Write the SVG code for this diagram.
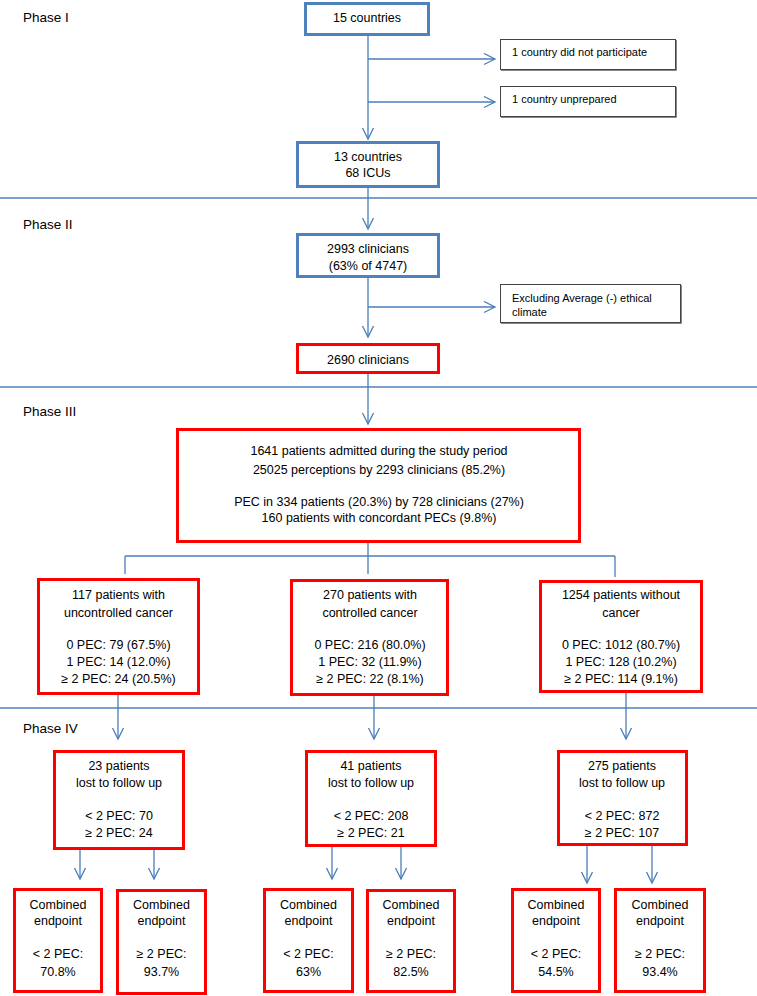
<svg xmlns="http://www.w3.org/2000/svg" width="757" height="996" viewBox="0 0 757 996">
<defs>
<marker id="arr" markerUnits="userSpaceOnUse" markerWidth="14" markerHeight="14" refX="12" refY="6" orient="auto">
<path d="M1,0.5 L12,6 L1,11.5" fill="none" stroke="#4a7ebb" stroke-width="1.3"/>
</marker>
</defs>
<style>
text{font-family:"Liberation Sans",Arial,sans-serif;font-size:12.5px;fill:#000}
.c{text-anchor:middle}
.ph{font-size:13.5px}
.sm{font-size:11px}
.blue{fill:#fff;stroke:#4f81bd;stroke-width:3}
.red{fill:#fff;stroke:#ff0000;stroke-width:3}
.side{fill:#fff;stroke:#444;stroke-width:1}
.shadow{fill:none;stroke:#888;stroke-width:1}
.div{stroke:#4f81bd;stroke-width:1.5;fill:none}
.ln{stroke:#4a7ebb;stroke-width:1.3;fill:none}
.ar{stroke:#4a7ebb;stroke-width:1.3;fill:none;marker-end:url(#arr)}
</style>
<rect width="757" height="996" fill="#fff"/>
<g id="dividers">
<line class="div" x1="0" y1="198" x2="757" y2="198"/>
<line class="div" x1="0" y1="387" x2="757" y2="387"/>
<line class="div" x1="0" y1="708" x2="757" y2="708"/>
</g>
<g id="phases">
<text class="ph" x="23" y="22">Phase I</text>
<text class="ph" x="23" y="229">Phase II</text>
<text class="ph" x="23" y="416">Phase III</text>
<text class="ph" x="23" y="733">Phase IV</text>
</g>
<g id="connectors">
<line class="ar" x1="368" y1="36" x2="368" y2="139"/>
<line class="ar" x1="368" y1="59" x2="495" y2="59"/>
<line class="ar" x1="368" y1="102" x2="495" y2="102"/>
<line class="ar" x1="368" y1="188" x2="368" y2="229"/>
<line class="ar" x1="368" y1="278" x2="368" y2="337"/>
<line class="ar" x1="368" y1="307" x2="495" y2="307"/>
<line class="ar" x1="368" y1="374" x2="368" y2="424"/>
<polyline class="ln" points="368,543 368,556"/>
<line class="ln" x1="125" y1="556" x2="615" y2="556"/>
<line class="ln" x1="125" y1="556" x2="125" y2="574"/>
<line class="ln" x1="368" y1="556" x2="368" y2="574"/>
<line class="ln" x1="615" y1="556" x2="615" y2="577"/>
<line class="ar" x1="118" y1="695" x2="118" y2="739"/>
<line class="ar" x1="374" y1="696" x2="374" y2="739"/>
<line class="ar" x1="626" y1="693" x2="626" y2="739"/>
<line class="ar" x1="80" y1="850" x2="80" y2="879"/>
<line class="ar" x1="154" y1="850" x2="154" y2="879"/>
<line class="ar" x1="332" y1="847" x2="332" y2="879"/>
<line class="ar" x1="401" y1="847" x2="401" y2="879"/>
<line class="ar" x1="587" y1="846" x2="587" y2="883"/>
<line class="ar" x1="652" y1="846" x2="652" y2="883"/>
</g>
<g id="n15">
<rect class="blue" x="305.5" y="3.5" width="123" height="31"/>
<text class="c" x="367" y="21.5">15 countries</text>
</g>
<g id="nNoPart">
<rect class="side" x="500.5" y="39.5" width="175" height="30"/>
<polyline class="shadow" points="676.5,40 676.5,70.5 501,70.5"/>
<text class="sm" x="512" y="56">1 country did not participate</text>
</g>
<g id="nUnprep">
<rect class="side" x="500.5" y="86.5" width="175" height="30"/>
<polyline class="shadow" points="676.5,87 676.5,117.5 501,117.5"/>
<text class="sm" x="512" y="103">1 country unprepared</text>
</g>
<g id="n13">
<rect class="blue" x="297.5" y="142.5" width="141" height="44"/>
<text class="c" x="368" y="160.5">13 countries</text>
<text class="c" x="368" y="177">68 ICUs</text>
</g>
<g id="n2993">
<rect class="blue" x="297.5" y="234.5" width="141" height="42"/>
<text class="c" x="368" y="252.5">2993 clinicians</text>
<text class="c" x="368" y="269.5">(63% of 4747)</text>
</g>
<g id="nExcl">
<rect class="side" x="500.5" y="284.5" width="180" height="38"/>
<polyline class="shadow" points="681.5,285 681.5,323.5 501,323.5"/>
<text class="sm" x="512" y="302">Excluding Average (-) ethical</text>
<text class="sm" x="512" y="316">climate</text>
</g>
<g id="n2690">
<rect class="red" x="297.5" y="344.5" width="141" height="28"/>
<text class="c" x="368" y="363.5">2690 clinicians</text>
</g>
<g id="nPatients">
<rect class="red" x="177.5" y="429.5" width="402" height="112"/>
<text class="c" x="379" y="454.5">1641 patients admitted during the study period</text>
<text class="c" x="379" y="473.5">25025 perceptions by 2293 clinicians (85.2%)</text>
<text class="c" x="379" y="505.5">PEC in 334 patients (20.3%) by 728 clinicians (27%)</text>
<text class="c" x="379" y="521.5">160 patients with concordant PECs (9.8%)</text>
</g>
<g id="nUncontrolled">
<rect class="red" x="38.5" y="579.5" width="160" height="114"/>
<text class="c" x="118.5" y="598.5">117 patients with</text>
<text class="c" x="118.5" y="616.5">uncontrolled cancer</text>
<text class="c" x="118.5" y="648.5">0 PEC: 79 (67.5%)</text>
<text class="c" x="118.5" y="665.5">1 PEC: 14 (12.0%)</text>
<text class="c" x="118.5" y="682.5">≥ 2 PEC: 24 (20.5%)</text>
</g>
<g id="nControlled">
<rect class="red" x="291.5" y="580.5" width="156" height="114"/>
<text class="c" x="370" y="598.5">270 patients with</text>
<text class="c" x="370" y="616.5">controlled cancer</text>
<text class="c" x="370" y="648.5">0 PEC: 216 (80.0%)</text>
<text class="c" x="370" y="665.5">1 PEC: 32 (11.9%)</text>
<text class="c" x="370" y="682.5">≥ 2 PEC: 22 (8.1%)</text>
</g>
<g id="nNoCancer">
<rect class="red" x="540.5" y="581.5" width="161" height="110"/>
<text class="c" x="621" y="598.5">1254 patients without</text>
<text class="c" x="621" y="616.5">cancer</text>
<text class="c" x="621" y="648.5">0 PEC: 1012 (80.7%)</text>
<text class="c" x="621" y="665.5">1 PEC: 128 (10.2%)</text>
<text class="c" x="621" y="682.5">≥ 2 PEC: 114 (9.1%)</text>
</g>
<g id="nLost1">
<rect class="red" x="54.5" y="751.5" width="129" height="97"/>
<text class="c" x="119" y="769.5">23 patients</text>
<text class="c" x="119" y="786.5">lost to follow up</text>
<text class="c" x="119" y="819.5">&lt; 2 PEC: 70</text>
<text class="c" x="119" y="836.5">≥ 2 PEC: 24</text>
</g>
<g id="nLost2">
<rect class="red" x="306.5" y="751.5" width="129" height="94"/>
<text class="c" x="371" y="769.5">41 patients</text>
<text class="c" x="371" y="786.5">lost to follow up</text>
<text class="c" x="371" y="819.5">&lt; 2 PEC: 208</text>
<text class="c" x="371" y="836.5">≥ 2 PEC: 21</text>
</g>
<g id="nLost3">
<rect class="red" x="558.5" y="751.5" width="128" height="93"/>
<text class="c" x="622" y="769.5">275 patients</text>
<text class="c" x="622" y="786.5">lost to follow up</text>
<text class="c" x="622" y="819.5">&lt; 2 PEC: 872</text>
<text class="c" x="622" y="836.5">≥ 2 PEC: 107</text>
</g>
<g id="nE1">
<rect class="red" x="14.5" y="889.5" width="87" height="102"/>
<text class="c" x="58" y="908.5">Combined</text>
<text class="c" x="58" y="924.5">endpoint</text>
<text class="c" x="58" y="957.5">&lt; 2 PEC:</text>
<text class="c" x="58" y="975.5">70.8%</text>
</g>
<g id="nE2">
<rect class="red" x="117.5" y="890.5" width="88" height="103"/>
<text class="c" x="161.5" y="908.5">Combined</text>
<text class="c" x="161.5" y="924.5">endpoint</text>
<text class="c" x="161.5" y="957.5">≥ 2 PEC:</text>
<text class="c" x="161.5" y="975.5">93.7%</text>
</g>
<g id="nE3">
<rect class="red" x="264.5" y="889.5" width="88" height="102"/>
<text class="c" x="308.5" y="908.5">Combined</text>
<text class="c" x="308.5" y="924.5">endpoint</text>
<text class="c" x="308.5" y="957.5">&lt; 2 PEC:</text>
<text class="c" x="308.5" y="975.5">63%</text>
</g>
<g id="nE4">
<rect class="red" x="367.5" y="890.5" width="87" height="101"/>
<text class="c" x="411" y="908.5">Combined</text>
<text class="c" x="411" y="924.5">endpoint</text>
<text class="c" x="411" y="957.5">≥ 2 PEC:</text>
<text class="c" x="411" y="975.5">82.5%</text>
</g>
<g id="nE5">
<rect class="red" x="512.5" y="889.5" width="87" height="102"/>
<text class="c" x="556" y="908.5">Combined</text>
<text class="c" x="556" y="924.5">endpoint</text>
<text class="c" x="556" y="957.5">&lt; 2 PEC:</text>
<text class="c" x="556" y="975.5">54.5%</text>
</g>
<g id="nE6">
<rect class="red" x="615.5" y="889.5" width="89" height="102"/>
<text class="c" x="660" y="908.5">Combined</text>
<text class="c" x="660" y="924.5">endpoint</text>
<text class="c" x="660" y="957.5">≥ 2 PEC:</text>
<text class="c" x="660" y="975.5">93.4%</text>
</g>
</svg>
